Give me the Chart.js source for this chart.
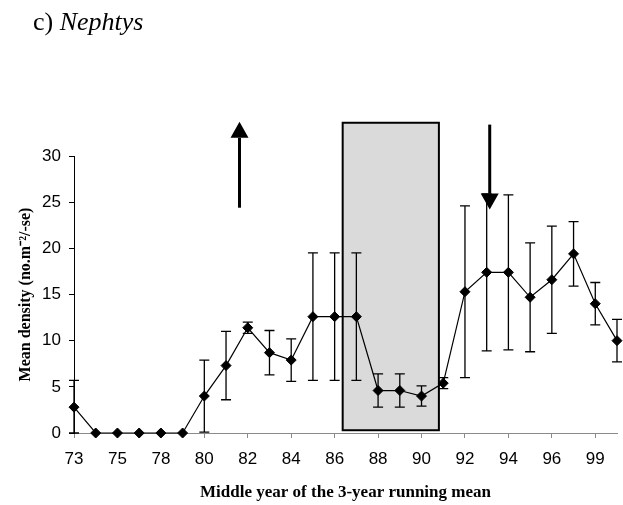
<!DOCTYPE html>
<html>
<head>
<meta charset="utf-8">
<script src="https://cdn.jsdelivr.net/npm/chart.js@4.4.1/dist/chart.umd.min.js"></script>
<style>
  html, body { margin: 0; padding: 0; background: #ffffff; }
  #wrap { position: relative; width: 623px; height: 505px; }
  #panel {
    position: absolute; left: 33px; top: 9px; margin: 0;
    font-family: "Liberation Serif", "Times New Roman", serif;
    font-size: 26px; line-height: 26px; font-weight: normal; color: #000;
  }
  canvas { position: absolute; left: 0; top: 0; }
</style>
</head>
<body>
<div id="wrap">
  <canvas id="chart" width="623" height="505"></canvas>
  <div id="panel">c) <i>Nephtys</i></div>
</div>
<script>
// Middle year of each 3-year running mean
const years = ['73', '74', '75', '76', '78', '79', '80', '81', '82', '83', '84', '85', '86',
               '87', '88', '89', '90', '91', '92', '93', '94', '95', '96', '98', '99', '00'];
// Mean density (no. m^-2)
const meanDensity = [2.8, 0, 0, 0, 0, 0, 4.0, 7.3, 11.4, 8.7, 7.9, 12.6, 12.6,
                     12.6, 4.6, 4.6, 4.0, 5.4, 15.3, 17.4, 17.4, 14.7, 16.6, 19.4, 14.0, 10.0];
// Standard error of each mean
const stdError = [2.9, 0, 0, 0, 0, 0, 3.9, 3.7, 0.6, 2.4, 2.3, 6.9, 6.9,
                  6.9, 1.8, 1.8, 1.1, 0.6, 9.3, 8.5, 8.4, 5.9, 5.8, 3.5, 2.3, 2.3];
// Y axis tick range
const yTicks = [0, 5, 10, 15, 20, 25, 30];

const serif = '"Liberation Serif", "Times New Roman", serif';
const sans = '"Liberation Sans", Arial, sans-serif';

// Shaded period box and the two arrows, placed in data units (category index, density)
const shadedPeriod = { from: 12.37, to: 16.8, low: 0.3, high: 33.6 };
const arrows = [
  { at: 7.62, tail: 24.4, tip: 33.7 },   // upward arrow
  { at: 19.14, tail: 33.4, tip: 24.2 }   // downward arrow
];

const overlays = {
  id: 'overlays',
  beforeDatasetsDraw(chart) {
    const { ctx, scales: { x, y } } = chart;
    ctx.save();
    // shaded period
    const x0 = x.getPixelForValue(shadedPeriod.from);
    const x1 = x.getPixelForValue(shadedPeriod.to);
    const y0 = y.getPixelForValue(shadedPeriod.high);
    const y1 = y.getPixelForValue(shadedPeriod.low);
    ctx.fillStyle = '#dadada';
    ctx.fillRect(x0, y0, x1 - x0, y1 - y0);
    ctx.strokeStyle = '#000';
    ctx.lineWidth = 2;
    ctx.strokeRect(x0, y0, x1 - x0, y1 - y0);

    // error bars (mean ± se), floored at zero
    ctx.lineWidth = 1.3;
    ctx.strokeStyle = '#000';
    const cap = 5;
    meanDensity.forEach((m, i) => {
      const se = stdError[i];
      if (!se) return;
      const px = x.getPixelForValue(i);
      const top = y.getPixelForValue(m + se);
      const bot = y.getPixelForValue(Math.max(0, m - se));
      ctx.beginPath();
      ctx.moveTo(px, top); ctx.lineTo(px, bot);
      ctx.moveTo(px - cap, top); ctx.lineTo(px + cap, top);
      ctx.moveTo(px - cap, bot); ctx.lineTo(px + cap, bot);
      ctx.stroke();
    });
    ctx.restore();
  },
  afterDraw(chart) {
    const { ctx, scales: { x, y } } = chart;
    ctx.save();
    ctx.fillStyle = '#000';
    ctx.strokeStyle = '#000';
    arrows.forEach(a => {
      const px = x.getPixelForValue(a.at);
      const tail = y.getPixelForValue(a.tail);
      const tip = y.getPixelForValue(a.tip);
      const dir = tip < tail ? -1 : 1;
      const headLen = 16, headHalf = 9;
      const base = tip - dir * headLen;
      ctx.lineWidth = 3;
      ctx.beginPath();
      ctx.moveTo(px, tail); ctx.lineTo(px, base);
      ctx.stroke();
      ctx.beginPath();
      ctx.moveTo(px, tip);
      ctx.lineTo(px - headHalf, base);
      ctx.lineTo(px + headHalf, base);
      ctx.closePath();
      ctx.fill();
    });
    ctx.restore();
  }
};

new Chart(document.getElementById('chart'), {
  type: 'line',
  data: {
    labels: years,
    datasets: [{
      data: meanDensity,
      borderColor: '#000',
      borderWidth: 1.2,
      backgroundColor: '#000',
      pointStyle: 'rectRot',
      pointRadius: 5,
      pointBorderWidth: 1,
      pointBackgroundColor: '#000',
      pointBorderColor: '#000',
      tension: 0,
      clip: false
    }]
  },
  options: {
    responsive: false,
    devicePixelRatio: 1,
    animation: false,
    layout: { padding: { top: 156, right: 6, bottom: 0, left: 0 } },
    plugins: { legend: { display: false }, tooltip: { enabled: false }, title: { display: false } },
    scales: {
      x: {
        type: 'category',
        offset: false,
        afterFit(scale) {
          scale.height = 72;
          scale.paddingLeft = 0;
          scale.paddingRight = 0;
        },
        border: { display: true, color: '#8a8a8a', width: 1 },
        grid: {
          display: true,
          drawOnChartArea: false,
          drawTicks: true,
          tickLength: 5,
          offset: false,
          color: (c) => (c.index % 2 === 0 ? '#8a8a8a' : 'rgba(0,0,0,0)')
        },
        ticks: {
          autoSkip: false,
          maxRotation: 0,
          padding: 11,
          color: '#000',
          font: { family: sans, size: 17 },
          callback: (v, i) => (i % 2 === 0 && i < years.length - 1 ? years[i] : '')
        },
        title: {
          display: true,
          text: 'Middle year of the 3-year running mean',
          color: '#000',
          font: { family: serif, size: 17, weight: 'bold' },
          padding: { top: 0, bottom: 2 }
        }
      },
      y: {
        min: yTicks[0],
        max: yTicks[yTicks.length - 1],
        afterFit(scale) { scale.width = 74; },
        afterBuildTicks(scale) { scale.ticks = yTicks.map(v => ({ value: v })); },
        border: { display: true, color: '#000', width: 1 },
        grid: {
          display: true,
          drawOnChartArea: false,
          drawTicks: true,
          tickLength: 5,
          color: '#000'
        },
        ticks: {
          padding: 8,
          color: '#000',
          font: { family: sans, size: 17 }
        },
        title: {
          display: true,
          text: 'Mean density (no.m\u207B\u00B2/-se)',
          color: '#000',
          font: { family: serif, size: 16, weight: 'bold' },
          padding: { top: 16, bottom: 0 }
        }
      }
    }
  },
  plugins: [overlays]
});
</script>
</body>
</html>
